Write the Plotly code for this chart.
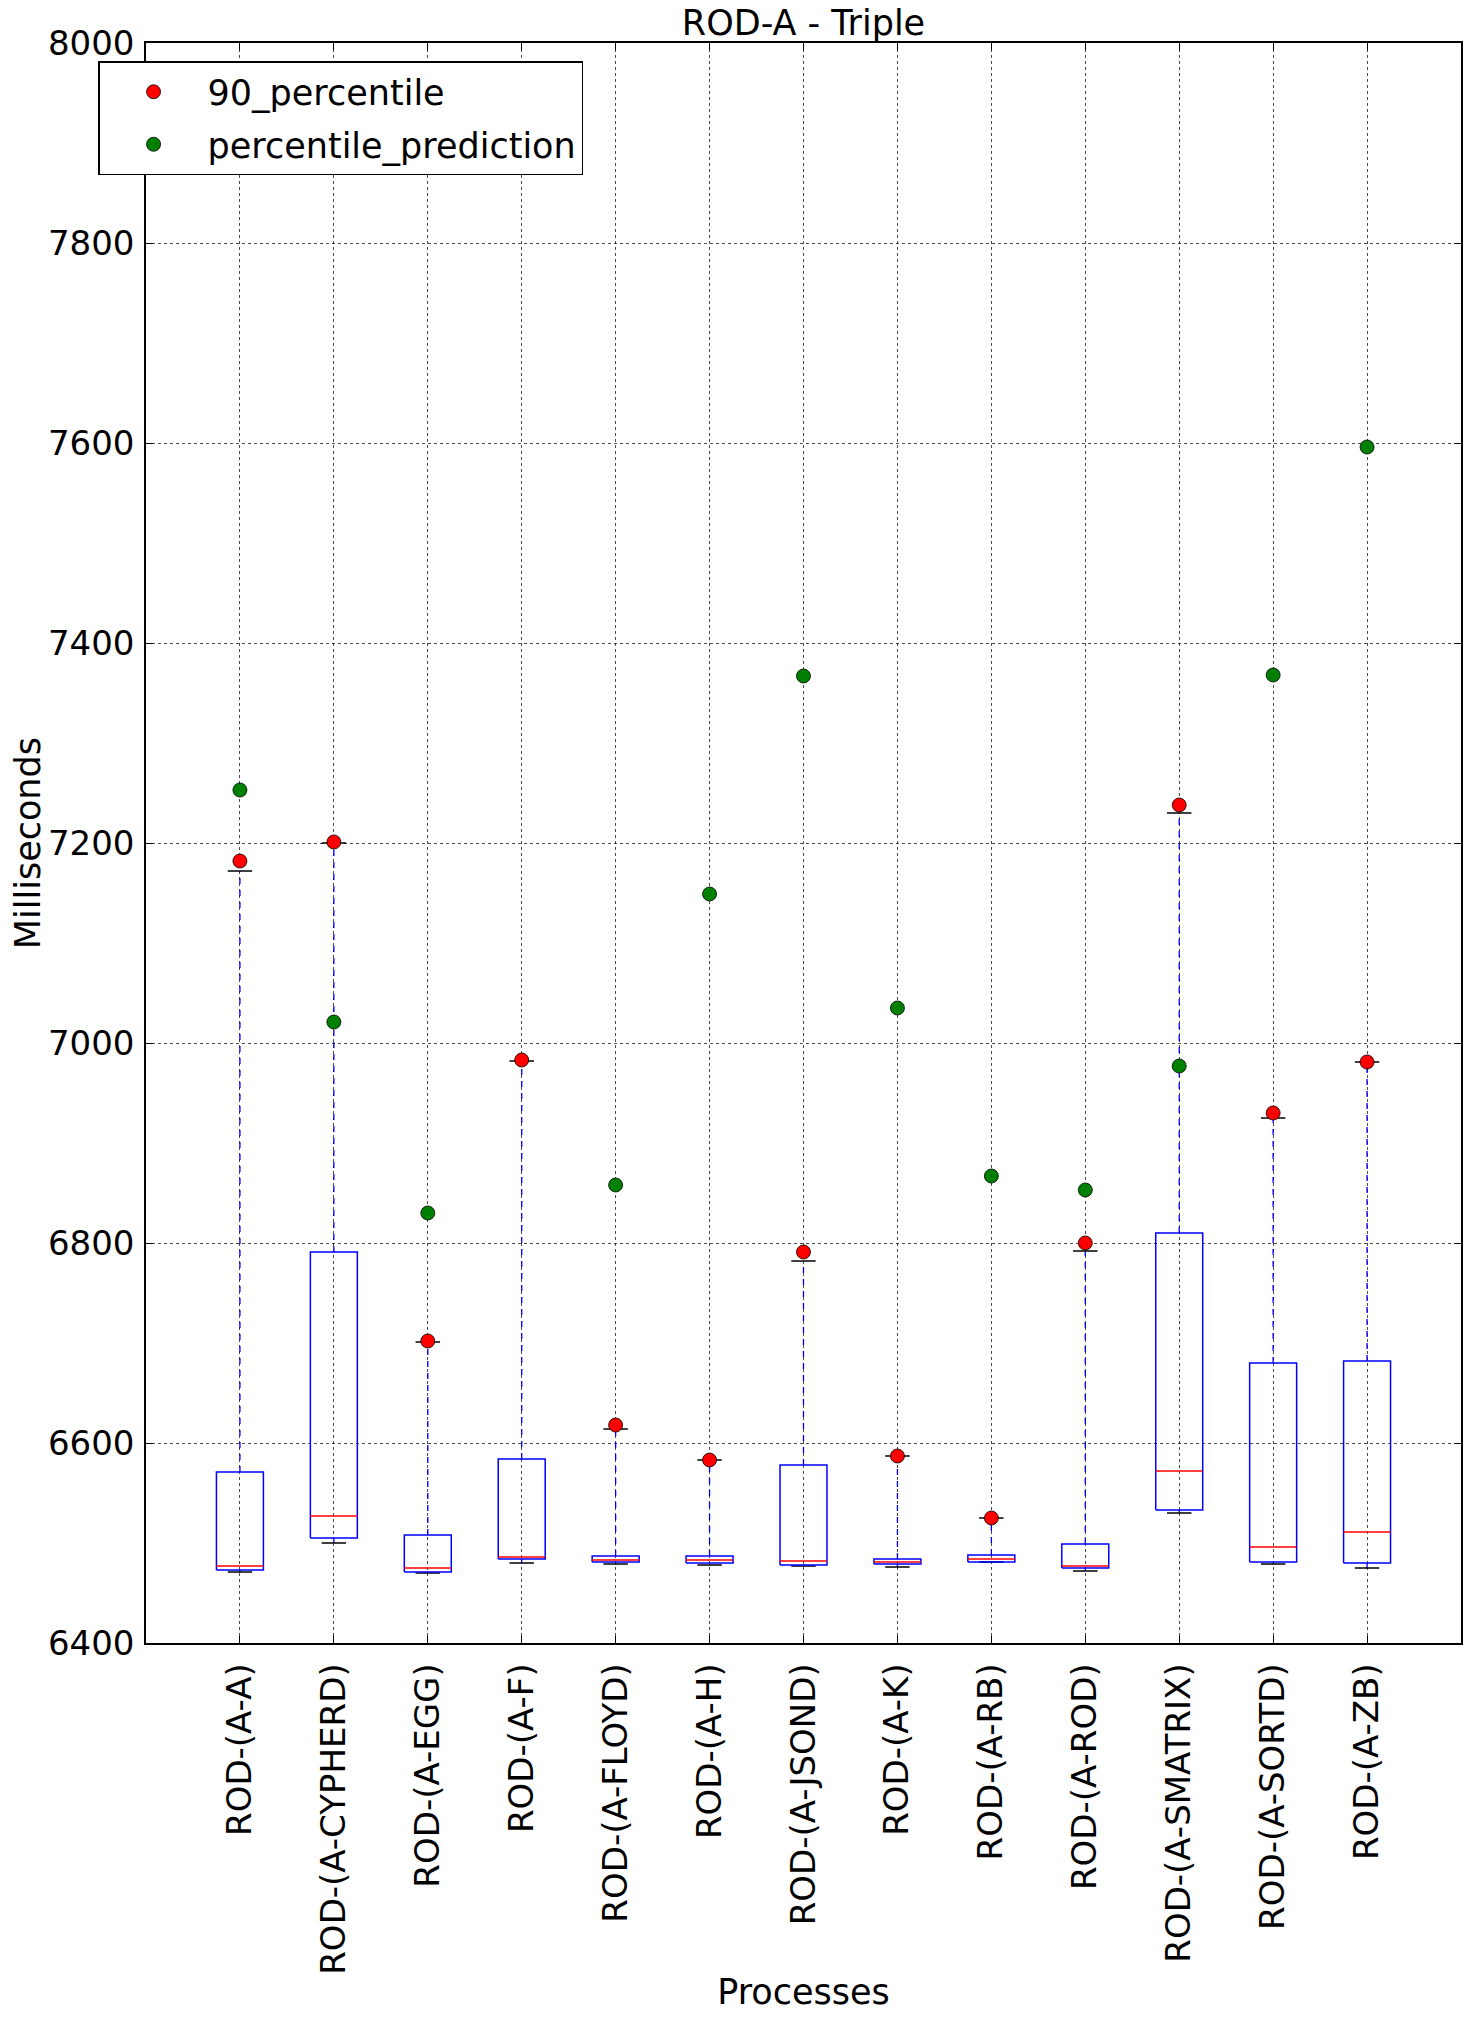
import numpy as np
import plotly.graph_objects as go

categories = ["ROD-(A-A)", "ROD-(A-CYPHERD)", "ROD-(A-EGG)", "ROD-(A-F)", "ROD-(A-FLOYD)",
              "ROD-(A-H)", "ROD-(A-JSOND)", "ROD-(A-K)", "ROD-(A-RB)", "ROD-(A-ROD)",
              "ROD-(A-SMATRIX)", "ROD-(A-SORTD)", "ROD-(A-ZB)"]
whisker_high = [7172, 7200, 6701, 6982, 6614, 6583, 6782, 6587, 6525, 6792, 7230, 6925, 6981]
q3 = [6571, 6791, 6508, 6584, 6487, 6487, 6578, 6484, 6488, 6499, 6810, 6680, 6682]
median = [6477, 6527, 6475, 6486, 6483, 6483, 6482, 6481, 6484, 6477, 6572, 6496, 6511]
q1 = [6473, 6505, 6471, 6484, 6481, 6480, 6478, 6479, 6481, 6475, 6533, 6481, 6480]
whisker_low = [6471, 6500, 6470, 6480, 6479, 6478, 6477, 6476, 6481, 6472, 6530, 6479, 6475]
p90 = [7182, 7201, 6702, 6983, 6618, 6583, 6791, 6587, 6525, 6800, 7238, 6930, 6981]
pred = [7253, 7021, 6830, None, 6858, 7149, 7367, 7035, 6867, 6853, 6977, 7368, 7596]
y_ticks = [6400, 6600, 6800, 7000, 7200, 7400, 7600, 7800, 8000]

FONT = "DejaVu Sans"
FS_TICK = 34
FS = 35
positions = np.arange(1, len(categories) + 1)
half_box = 0.25
half_cap = 0.13

bx, by = [], []
mx, my = [], []
wx, wy = [], []
cx, cy = [], []
for p, lo, a, m, b, hi in zip(positions, whisker_low, q1, median, q3, whisker_high):
    p = float(p)
    bx += [p - half_box, p + half_box, p + half_box, p - half_box, p - half_box, None]
    by += [a, a, b, b, a, None]
    mx += [p - half_box, p + half_box, None]
    my += [m, m, None]
    wx += [p, p, None, p, p, None]
    wy += [b, hi, None, a, lo, None]
    cx += [p - half_cap, p + half_cap, None, p - half_cap, p + half_cap, None]
    cy += [hi, hi, None, lo, lo, None]

fig = go.Figure()
fig.add_trace(go.Scatter(x=wx, y=wy, mode="lines", line=dict(color="blue", width=1.3, dash="6px,6px"),
                         showlegend=False, hoverinfo="skip"))
fig.add_trace(go.Scatter(x=cx, y=cy, mode="lines", line=dict(color="black", width=1.5),
                         showlegend=False, hoverinfo="skip"))
fig.add_trace(go.Scatter(x=bx, y=by, mode="lines", line=dict(color="blue", width=1.5),
                         showlegend=False, hoverinfo="skip"))
fig.add_trace(go.Scatter(x=mx, y=my, mode="lines", line=dict(color="red", width=1.5),
                         showlegend=False, hoverinfo="skip"))
fig.add_trace(go.Scatter(x=positions, y=p90, mode="markers", name="90_percentile", legendgroup="a",
                         marker=dict(color="red", size=14, line=dict(color="black", width=0.8))))
fig.add_trace(go.Scatter(x=positions, y=pred, mode="markers", name="percentile_prediction", legendgroup="b",
                         marker=dict(color="green", size=14, line=dict(color="black", width=0.8))))

axis_common = dict(showline=True, linecolor="black", linewidth=1.5, mirror="ticks",
                   ticks="inside", ticklen=7, tickcolor="black",
                   showgrid=True, gridcolor="rgba(0,0,0,0.7)", gridwidth=1, griddash="dot",
                   zeroline=False, tickfont=dict(family=FONT, size=FS_TICK, color="black"))

fig.update_layout(
    width=1472, height=2019,
    margin=dict(l=146, r=9, t=43, b=376),
    paper_bgcolor="white", plot_bgcolor="white",
    font=dict(family=FONT, size=FS, color="black"),
    title=dict(text="ROD-A - Triple", x=0.5, xref="paper", xanchor="center",
               y=1 - 23 / 2019, yref="container", yanchor="middle",
               font=dict(family=FONT, size=FS, color="black")),
    xaxis=dict(range=[0, len(categories) + 1], tickmode="array", tickvals=positions,
               ticktext=categories, tickangle=-90, ticklabelstandoff=5,
               title=dict(text="Processes", standoff=6, font=dict(family=FONT, size=FS)),
               **axis_common),
    yaxis=dict(range=[6400, 8000], tickmode="array", tickvals=y_ticks,
               ticktext=[str(v) for v in y_ticks], ticklabelstandoff=3,
               **axis_common),
    legend=dict(x=(98 - 146) / 1317, y=1 - (61 - 43) / 1600, xanchor="left", yanchor="top",
                bgcolor="white", bordercolor="black", borderwidth=1.5,
                font=dict(family=FONT, size=FS, color="black"), itemwidth=98,
                traceorder="grouped", tracegroupgap=4),
    showlegend=True,
    annotations=[dict(text="Milliseconds", x=(28 - 146) / 1317, xref="paper", y=0.5, yref="paper",
                      xanchor="center", yanchor="middle", textangle=-90, showarrow=False,
                      font=dict(family=FONT, size=FS, color="black"))],
)

fig.write_html("out.html")
